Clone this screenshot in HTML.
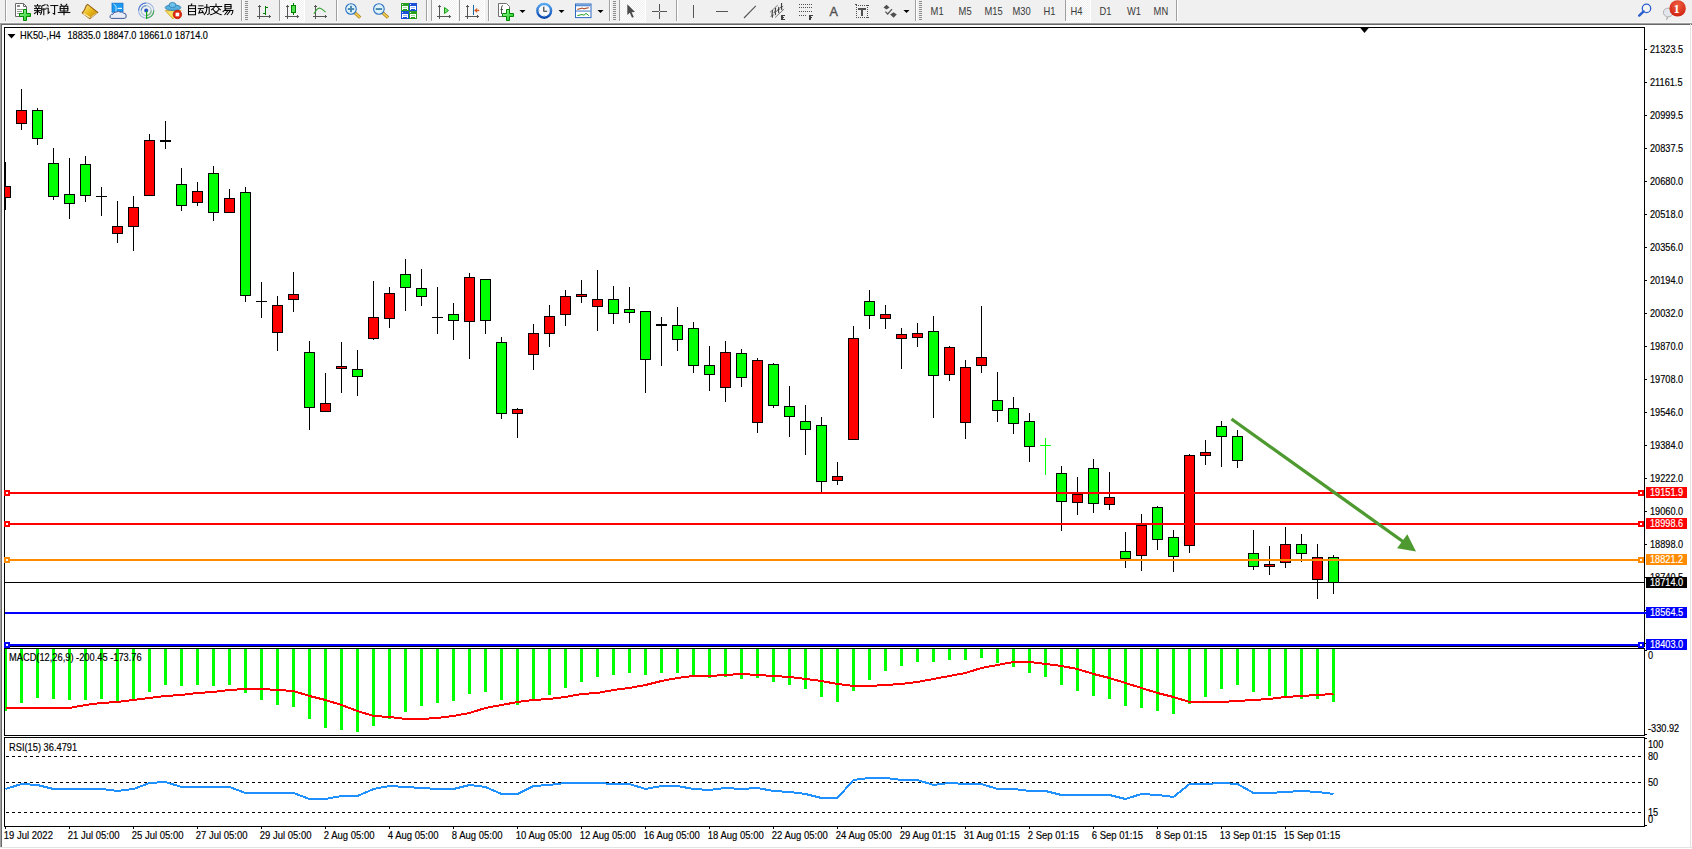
<!DOCTYPE html><html><head><meta charset="utf-8"><style>
html,body{margin:0;padding:0;}body{width:1692px;height:849px;overflow:hidden;background:#f0f0f0;position:relative;font-family:"Liberation Sans",sans-serif;}
svg{position:absolute;left:0;top:0;}
.t{font-family:"Liberation Sans",sans-serif;font-size:10px;fill:#000;stroke:#000;stroke-width:0.16px;}
</style></head><body>
<svg width="1692" height="849" viewBox="0 0 1692 849">
<g shape-rendering="crispEdges">
<rect x="0" y="0" width="1692" height="23" fill="#f0f0f0"/>
<rect x="0" y="22" width="1691" height="1" fill="#f7f7f7"/>
<rect x="0" y="23" width="1692" height="1" fill="#a0a0a0"/>
<rect x="0" y="24" width="1692" height="1" fill="#696969"/>
<rect x="0" y="25" width="1692" height="824" fill="#ffffff"/>
<rect x="0" y="23" width="1" height="826" fill="#a0a0a0"/>
<rect x="1" y="24" width="1" height="825" fill="#696969"/>
<rect x="1690" y="24" width="1" height="825" fill="#e3e3e3"/>
<rect x="0" y="847" width="1692" height="1" fill="#e3e3e3"/>
<rect x="0" y="848" width="1692" height="1" fill="#ffffff"/>
<rect x="4" y="27" width="1641" height="1" fill="#000"/>
<rect x="4" y="646" width="1641" height="1" fill="#000"/>
<rect x="4" y="27" width="1" height="620" fill="#000"/>
<rect x="1644" y="27" width="1" height="620" fill="#000"/>
<rect x="4" y="648" width="1641" height="1" fill="#000"/>
<rect x="4" y="735" width="1641" height="1" fill="#000"/>
<rect x="4" y="648" width="1" height="88" fill="#000"/>
<rect x="1644" y="648" width="1" height="88" fill="#000"/>
<rect x="4" y="737" width="1641" height="1" fill="#000"/>
<rect x="4" y="826" width="1641" height="1" fill="#000"/>
<rect x="4" y="737" width="1" height="90" fill="#000"/>
<rect x="1644" y="737" width="1" height="90" fill="#000"/>
</g>
<defs><clipPath id="cm"><rect x="5" y="28" width="1639" height="618"/></clipPath>
<clipPath id="cd"><rect x="5" y="649" width="1639" height="86"/></clipPath>
<clipPath id="cr"><rect x="5" y="738" width="1639" height="88"/></clipPath></defs>
<g clip-path="url(#cm)" shape-rendering="crispEdges">
<rect x="5" y="162" width="1" height="48" fill="#000"/>
<rect x="0" y="186" width="11" height="12" fill="#000"/>
<rect x="1" y="187" width="9" height="10" fill="#ff0000"/>
<rect x="21" y="89" width="1" height="41" fill="#000"/>
<rect x="16" y="110" width="11" height="14" fill="#000"/>
<rect x="17" y="111" width="9" height="12" fill="#ff0000"/>
<rect x="37" y="108" width="1" height="37" fill="#000"/>
<rect x="32" y="110" width="11" height="29" fill="#000"/>
<rect x="33" y="111" width="9" height="27" fill="#00ff00"/>
<rect x="53" y="148" width="1" height="52" fill="#000"/>
<rect x="48" y="163" width="11" height="34" fill="#000"/>
<rect x="49" y="164" width="9" height="32" fill="#00ff00"/>
<rect x="69" y="158" width="1" height="61" fill="#000"/>
<rect x="64" y="194" width="11" height="10" fill="#000"/>
<rect x="65" y="195" width="9" height="8" fill="#00ff00"/>
<rect x="85" y="156" width="1" height="46" fill="#000"/>
<rect x="80" y="164" width="11" height="32" fill="#000"/>
<rect x="81" y="165" width="9" height="30" fill="#00ff00"/>
<rect x="101" y="187" width="1" height="29" fill="#000"/>
<rect x="96" y="196" width="11" height="1" fill="#000"/>
<rect x="117" y="201" width="1" height="42" fill="#000"/>
<rect x="112" y="226" width="11" height="8" fill="#000"/>
<rect x="113" y="227" width="9" height="6" fill="#ff0000"/>
<rect x="133" y="196" width="1" height="55" fill="#000"/>
<rect x="128" y="207" width="11" height="20" fill="#000"/>
<rect x="129" y="208" width="9" height="18" fill="#ff0000"/>
<rect x="149" y="134" width="1" height="62" fill="#000"/>
<rect x="144" y="140" width="11" height="56" fill="#000"/>
<rect x="145" y="141" width="9" height="54" fill="#ff0000"/>
<rect x="165" y="121" width="1" height="28" fill="#000"/>
<rect x="160" y="140" width="11" height="2" fill="#000"/>
<rect x="181" y="168" width="1" height="43" fill="#000"/>
<rect x="176" y="184" width="11" height="22" fill="#000"/>
<rect x="177" y="185" width="9" height="20" fill="#00ff00"/>
<rect x="197" y="182" width="1" height="24" fill="#000"/>
<rect x="192" y="191" width="11" height="12" fill="#000"/>
<rect x="193" y="192" width="9" height="10" fill="#ff0000"/>
<rect x="213" y="166" width="1" height="55" fill="#000"/>
<rect x="208" y="173" width="11" height="40" fill="#000"/>
<rect x="209" y="174" width="9" height="38" fill="#00ff00"/>
<rect x="229" y="189" width="1" height="24" fill="#000"/>
<rect x="224" y="198" width="11" height="15" fill="#000"/>
<rect x="225" y="199" width="9" height="13" fill="#ff0000"/>
<rect x="245" y="187" width="1" height="115" fill="#000"/>
<rect x="240" y="192" width="11" height="104" fill="#000"/>
<rect x="241" y="193" width="9" height="102" fill="#00ff00"/>
<rect x="261" y="282" width="1" height="36" fill="#000"/>
<rect x="256" y="301" width="11" height="1" fill="#000"/>
<rect x="277" y="296" width="1" height="55" fill="#000"/>
<rect x="272" y="305" width="11" height="28" fill="#000"/>
<rect x="273" y="306" width="9" height="26" fill="#ff0000"/>
<rect x="293" y="272" width="1" height="40" fill="#000"/>
<rect x="288" y="294" width="11" height="6" fill="#000"/>
<rect x="289" y="295" width="9" height="4" fill="#ff0000"/>
<rect x="309" y="341" width="1" height="89" fill="#000"/>
<rect x="304" y="352" width="11" height="56" fill="#000"/>
<rect x="305" y="353" width="9" height="54" fill="#00ff00"/>
<rect x="325" y="373" width="1" height="39" fill="#000"/>
<rect x="320" y="403" width="11" height="9" fill="#000"/>
<rect x="321" y="404" width="9" height="7" fill="#ff0000"/>
<rect x="341" y="342" width="1" height="51" fill="#000"/>
<rect x="336" y="366" width="11" height="3" fill="#000"/>
<rect x="337" y="367" width="9" height="1" fill="#ff0000"/>
<rect x="357" y="350" width="1" height="46" fill="#000"/>
<rect x="352" y="369" width="11" height="8" fill="#000"/>
<rect x="353" y="370" width="9" height="6" fill="#00ff00"/>
<rect x="373" y="281" width="1" height="59" fill="#000"/>
<rect x="368" y="317" width="11" height="22" fill="#000"/>
<rect x="369" y="318" width="9" height="20" fill="#ff0000"/>
<rect x="389" y="287" width="1" height="41" fill="#000"/>
<rect x="384" y="293" width="11" height="26" fill="#000"/>
<rect x="385" y="294" width="9" height="24" fill="#ff0000"/>
<rect x="405" y="259" width="1" height="52" fill="#000"/>
<rect x="400" y="274" width="11" height="14" fill="#000"/>
<rect x="401" y="275" width="9" height="12" fill="#00ff00"/>
<rect x="421" y="269" width="1" height="37" fill="#000"/>
<rect x="416" y="288" width="11" height="9" fill="#000"/>
<rect x="417" y="289" width="9" height="7" fill="#00ff00"/>
<rect x="437" y="287" width="1" height="47" fill="#000"/>
<rect x="432" y="317" width="11" height="1" fill="#000"/>
<rect x="453" y="303" width="1" height="37" fill="#000"/>
<rect x="448" y="314" width="11" height="7" fill="#000"/>
<rect x="449" y="315" width="9" height="5" fill="#00ff00"/>
<rect x="469" y="273" width="1" height="86" fill="#000"/>
<rect x="464" y="277" width="11" height="45" fill="#000"/>
<rect x="465" y="278" width="9" height="43" fill="#ff0000"/>
<rect x="485" y="279" width="1" height="55" fill="#000"/>
<rect x="480" y="279" width="11" height="42" fill="#000"/>
<rect x="481" y="280" width="9" height="40" fill="#00ff00"/>
<rect x="501" y="337" width="1" height="82" fill="#000"/>
<rect x="496" y="342" width="11" height="72" fill="#000"/>
<rect x="497" y="343" width="9" height="70" fill="#00ff00"/>
<rect x="517" y="408" width="1" height="30" fill="#000"/>
<rect x="512" y="409" width="11" height="5" fill="#000"/>
<rect x="513" y="410" width="9" height="3" fill="#ff0000"/>
<rect x="533" y="324" width="1" height="46" fill="#000"/>
<rect x="528" y="333" width="11" height="22" fill="#000"/>
<rect x="529" y="334" width="9" height="20" fill="#ff0000"/>
<rect x="549" y="305" width="1" height="42" fill="#000"/>
<rect x="544" y="316" width="11" height="18" fill="#000"/>
<rect x="545" y="317" width="9" height="16" fill="#ff0000"/>
<rect x="565" y="290" width="1" height="36" fill="#000"/>
<rect x="560" y="296" width="11" height="19" fill="#000"/>
<rect x="561" y="297" width="9" height="17" fill="#ff0000"/>
<rect x="581" y="280" width="1" height="23" fill="#000"/>
<rect x="576" y="294" width="11" height="3" fill="#000"/>
<rect x="577" y="295" width="9" height="1" fill="#ff0000"/>
<rect x="597" y="270" width="1" height="61" fill="#000"/>
<rect x="592" y="299" width="11" height="8" fill="#000"/>
<rect x="593" y="300" width="9" height="6" fill="#ff0000"/>
<rect x="613" y="286" width="1" height="38" fill="#000"/>
<rect x="608" y="299" width="11" height="15" fill="#000"/>
<rect x="609" y="300" width="9" height="13" fill="#00ff00"/>
<rect x="629" y="287" width="1" height="36" fill="#000"/>
<rect x="624" y="309" width="11" height="4" fill="#000"/>
<rect x="625" y="310" width="9" height="2" fill="#00ff00"/>
<rect x="645" y="311" width="1" height="82" fill="#000"/>
<rect x="640" y="311" width="11" height="49" fill="#000"/>
<rect x="641" y="312" width="9" height="47" fill="#00ff00"/>
<rect x="661" y="317" width="1" height="49" fill="#000"/>
<rect x="656" y="324" width="11" height="2" fill="#000"/>
<rect x="677" y="307" width="1" height="44" fill="#000"/>
<rect x="672" y="325" width="11" height="15" fill="#000"/>
<rect x="673" y="326" width="9" height="13" fill="#00ff00"/>
<rect x="693" y="322" width="1" height="51" fill="#000"/>
<rect x="688" y="328" width="11" height="38" fill="#000"/>
<rect x="689" y="329" width="9" height="36" fill="#00ff00"/>
<rect x="709" y="346" width="1" height="45" fill="#000"/>
<rect x="704" y="365" width="11" height="10" fill="#000"/>
<rect x="705" y="366" width="9" height="8" fill="#00ff00"/>
<rect x="725" y="341" width="1" height="61" fill="#000"/>
<rect x="720" y="352" width="11" height="36" fill="#000"/>
<rect x="721" y="353" width="9" height="34" fill="#ff0000"/>
<rect x="741" y="349" width="1" height="38" fill="#000"/>
<rect x="736" y="353" width="11" height="25" fill="#000"/>
<rect x="737" y="354" width="9" height="23" fill="#00ff00"/>
<rect x="757" y="358" width="1" height="75" fill="#000"/>
<rect x="752" y="360" width="11" height="63" fill="#000"/>
<rect x="753" y="361" width="9" height="61" fill="#ff0000"/>
<rect x="773" y="363" width="1" height="45" fill="#000"/>
<rect x="768" y="364" width="11" height="42" fill="#000"/>
<rect x="769" y="365" width="9" height="40" fill="#00ff00"/>
<rect x="789" y="386" width="1" height="51" fill="#000"/>
<rect x="784" y="406" width="11" height="11" fill="#000"/>
<rect x="785" y="407" width="9" height="9" fill="#00ff00"/>
<rect x="805" y="405" width="1" height="50" fill="#000"/>
<rect x="800" y="421" width="11" height="9" fill="#000"/>
<rect x="801" y="422" width="9" height="7" fill="#00ff00"/>
<rect x="821" y="417" width="1" height="76" fill="#000"/>
<rect x="816" y="425" width="11" height="57" fill="#000"/>
<rect x="817" y="426" width="9" height="55" fill="#00ff00"/>
<rect x="837" y="462" width="1" height="23" fill="#000"/>
<rect x="832" y="476" width="11" height="5" fill="#000"/>
<rect x="833" y="477" width="9" height="3" fill="#ff0000"/>
<rect x="853" y="326" width="1" height="114" fill="#000"/>
<rect x="848" y="338" width="11" height="102" fill="#000"/>
<rect x="849" y="339" width="9" height="100" fill="#ff0000"/>
<rect x="869" y="290" width="1" height="39" fill="#000"/>
<rect x="864" y="301" width="11" height="15" fill="#000"/>
<rect x="865" y="302" width="9" height="13" fill="#00ff00"/>
<rect x="885" y="305" width="1" height="24" fill="#000"/>
<rect x="880" y="314" width="11" height="5" fill="#000"/>
<rect x="881" y="315" width="9" height="3" fill="#ff0000"/>
<rect x="901" y="328" width="1" height="41" fill="#000"/>
<rect x="896" y="334" width="11" height="5" fill="#000"/>
<rect x="897" y="335" width="9" height="3" fill="#ff0000"/>
<rect x="917" y="323" width="1" height="24" fill="#000"/>
<rect x="912" y="333" width="11" height="5" fill="#000"/>
<rect x="913" y="334" width="9" height="3" fill="#ff0000"/>
<rect x="933" y="316" width="1" height="102" fill="#000"/>
<rect x="928" y="331" width="11" height="45" fill="#000"/>
<rect x="929" y="332" width="9" height="43" fill="#00ff00"/>
<rect x="949" y="346" width="1" height="35" fill="#000"/>
<rect x="944" y="347" width="11" height="28" fill="#000"/>
<rect x="945" y="348" width="9" height="26" fill="#ff0000"/>
<rect x="965" y="360" width="1" height="79" fill="#000"/>
<rect x="960" y="367" width="11" height="56" fill="#000"/>
<rect x="961" y="368" width="9" height="54" fill="#ff0000"/>
<rect x="981" y="306" width="1" height="67" fill="#000"/>
<rect x="976" y="357" width="11" height="9" fill="#000"/>
<rect x="977" y="358" width="9" height="7" fill="#ff0000"/>
<rect x="997" y="372" width="1" height="50" fill="#000"/>
<rect x="992" y="400" width="11" height="11" fill="#000"/>
<rect x="993" y="401" width="9" height="9" fill="#00ff00"/>
<rect x="1013" y="397" width="1" height="37" fill="#000"/>
<rect x="1008" y="408" width="11" height="16" fill="#000"/>
<rect x="1009" y="409" width="9" height="14" fill="#00ff00"/>
<rect x="1029" y="413" width="1" height="49" fill="#000"/>
<rect x="1024" y="421" width="11" height="26" fill="#000"/>
<rect x="1025" y="422" width="9" height="24" fill="#00ff00"/>
<rect x="1045" y="438" width="1" height="37" fill="#00ff00"/>
<rect x="1040" y="445" width="11" height="1" fill="#00ff00"/>
<rect x="1061" y="466" width="1" height="65" fill="#000"/>
<rect x="1056" y="473" width="11" height="29" fill="#000"/>
<rect x="1057" y="474" width="9" height="27" fill="#00ff00"/>
<rect x="1077" y="477" width="1" height="38" fill="#000"/>
<rect x="1072" y="494" width="11" height="9" fill="#000"/>
<rect x="1073" y="495" width="9" height="7" fill="#ff0000"/>
<rect x="1093" y="459" width="1" height="54" fill="#000"/>
<rect x="1088" y="468" width="11" height="36" fill="#000"/>
<rect x="1089" y="469" width="9" height="34" fill="#00ff00"/>
<rect x="1109" y="472" width="1" height="38" fill="#000"/>
<rect x="1104" y="497" width="11" height="8" fill="#000"/>
<rect x="1105" y="498" width="9" height="6" fill="#ff0000"/>
<rect x="1125" y="532" width="1" height="36" fill="#000"/>
<rect x="1120" y="551" width="11" height="8" fill="#000"/>
<rect x="1121" y="552" width="9" height="6" fill="#00ff00"/>
<rect x="1141" y="514" width="1" height="57" fill="#000"/>
<rect x="1136" y="525" width="11" height="31" fill="#000"/>
<rect x="1137" y="526" width="9" height="29" fill="#ff0000"/>
<rect x="1157" y="506" width="1" height="44" fill="#000"/>
<rect x="1152" y="507" width="11" height="33" fill="#000"/>
<rect x="1153" y="508" width="9" height="31" fill="#00ff00"/>
<rect x="1173" y="530" width="1" height="42" fill="#000"/>
<rect x="1168" y="537" width="11" height="20" fill="#000"/>
<rect x="1169" y="538" width="9" height="18" fill="#00ff00"/>
<rect x="1189" y="454" width="1" height="99" fill="#000"/>
<rect x="1184" y="455" width="11" height="91" fill="#000"/>
<rect x="1185" y="456" width="9" height="89" fill="#ff0000"/>
<rect x="1205" y="440" width="1" height="25" fill="#000"/>
<rect x="1200" y="452" width="11" height="4" fill="#000"/>
<rect x="1201" y="453" width="9" height="2" fill="#ff0000"/>
<rect x="1221" y="421" width="1" height="46" fill="#000"/>
<rect x="1216" y="426" width="11" height="11" fill="#000"/>
<rect x="1217" y="427" width="9" height="9" fill="#00ff00"/>
<rect x="1237" y="430" width="1" height="38" fill="#000"/>
<rect x="1232" y="436" width="11" height="25" fill="#000"/>
<rect x="1233" y="437" width="9" height="23" fill="#00ff00"/>
<rect x="1253" y="530" width="1" height="40" fill="#000"/>
<rect x="1248" y="553" width="11" height="14" fill="#000"/>
<rect x="1249" y="554" width="9" height="12" fill="#00ff00"/>
<rect x="1269" y="546" width="1" height="29" fill="#000"/>
<rect x="1264" y="564" width="11" height="3" fill="#000"/>
<rect x="1265" y="565" width="9" height="1" fill="#ff0000"/>
<rect x="1285" y="527" width="1" height="41" fill="#000"/>
<rect x="1280" y="544" width="11" height="19" fill="#000"/>
<rect x="1281" y="545" width="9" height="17" fill="#ff0000"/>
<rect x="1301" y="534" width="1" height="28" fill="#000"/>
<rect x="1296" y="544" width="11" height="10" fill="#000"/>
<rect x="1297" y="545" width="9" height="8" fill="#00ff00"/>
<rect x="1317" y="544" width="1" height="55" fill="#000"/>
<rect x="1312" y="557" width="11" height="23" fill="#000"/>
<rect x="1313" y="558" width="9" height="21" fill="#ff0000"/>
<rect x="1333" y="555" width="1" height="39" fill="#000"/>
<rect x="1328" y="557" width="11" height="26" fill="#000"/>
<rect x="1329" y="558" width="9" height="24" fill="#00ff00"/>
<rect x="5" y="492" width="1639" height="2" fill="#ff0000"/>
<rect x="5" y="523" width="1639" height="2" fill="#ff0000"/>
<rect x="5" y="559" width="1639" height="2" fill="#ff8c00"/>
<rect x="5" y="582" width="1639" height="1" fill="#000000"/>
<rect x="5" y="612" width="1639" height="2" fill="#0000ff"/>
<rect x="5" y="644" width="1639" height="2" fill="#0000ff"/>
</g>
<g shape-rendering="crispEdges">
<rect x="4" y="490" width="6" height="6" fill="#ff0000"/>
<rect x="6" y="492" width="2" height="2" fill="#ffffff"/>
<rect x="1638" y="490" width="6" height="6" fill="#ff0000"/>
<rect x="1640" y="492" width="2" height="2" fill="#ffffff"/>
<rect x="4" y="521" width="6" height="6" fill="#ff0000"/>
<rect x="6" y="523" width="2" height="2" fill="#ffffff"/>
<rect x="1638" y="521" width="6" height="6" fill="#ff0000"/>
<rect x="1640" y="523" width="2" height="2" fill="#ffffff"/>
<rect x="4" y="557" width="6" height="6" fill="#ff8c00"/>
<rect x="6" y="559" width="2" height="2" fill="#ffffff"/>
<rect x="1638" y="557" width="6" height="6" fill="#ff8c00"/>
<rect x="1640" y="559" width="2" height="2" fill="#ffffff"/>
<rect x="4" y="642" width="6" height="6" fill="#0000ff"/>
<rect x="6" y="644" width="2" height="2" fill="#ffffff"/>
<rect x="1638" y="642" width="6" height="6" fill="#0000ff"/>
<rect x="1640" y="644" width="2" height="2" fill="#ffffff"/>
</g>
<polygon points="1359.5,27 1369.5,27 1364.5,33" fill="#000"/>
<line x1="1231.5" y1="419" x2="1405" y2="543" stroke="#4e9a30" stroke-width="3.3"/>
<polygon points="1416,551.5 1407.3,534.2 1397.1,548.3" fill="#4e9a30"/>
<g clip-path="url(#cd)" shape-rendering="crispEdges">
<rect x="4" y="649" width="3" height="62" fill="#00ff00"/>
<rect x="20" y="649" width="3" height="54" fill="#00ff00"/>
<rect x="36" y="649" width="3" height="49" fill="#00ff00"/>
<rect x="52" y="649" width="3" height="50" fill="#00ff00"/>
<rect x="68" y="649" width="3" height="51" fill="#00ff00"/>
<rect x="84" y="649" width="3" height="51" fill="#00ff00"/>
<rect x="100" y="649" width="3" height="50" fill="#00ff00"/>
<rect x="116" y="649" width="3" height="52" fill="#00ff00"/>
<rect x="132" y="649" width="3" height="51" fill="#00ff00"/>
<rect x="148" y="649" width="3" height="43" fill="#00ff00"/>
<rect x="164" y="649" width="3" height="36" fill="#00ff00"/>
<rect x="180" y="649" width="3" height="37" fill="#00ff00"/>
<rect x="196" y="649" width="3" height="36" fill="#00ff00"/>
<rect x="212" y="649" width="3" height="37" fill="#00ff00"/>
<rect x="228" y="649" width="3" height="36" fill="#00ff00"/>
<rect x="244" y="649" width="3" height="44" fill="#00ff00"/>
<rect x="260" y="649" width="3" height="51" fill="#00ff00"/>
<rect x="276" y="649" width="3" height="56" fill="#00ff00"/>
<rect x="292" y="649" width="3" height="58" fill="#00ff00"/>
<rect x="308" y="649" width="3" height="70" fill="#00ff00"/>
<rect x="324" y="649" width="3" height="79" fill="#00ff00"/>
<rect x="340" y="649" width="3" height="81" fill="#00ff00"/>
<rect x="356" y="649" width="3" height="83" fill="#00ff00"/>
<rect x="372" y="649" width="3" height="77" fill="#00ff00"/>
<rect x="388" y="649" width="3" height="70" fill="#00ff00"/>
<rect x="404" y="649" width="3" height="63" fill="#00ff00"/>
<rect x="420" y="649" width="3" height="57" fill="#00ff00"/>
<rect x="436" y="649" width="3" height="54" fill="#00ff00"/>
<rect x="452" y="649" width="3" height="52" fill="#00ff00"/>
<rect x="468" y="649" width="3" height="45" fill="#00ff00"/>
<rect x="484" y="649" width="3" height="43" fill="#00ff00"/>
<rect x="500" y="649" width="3" height="51" fill="#00ff00"/>
<rect x="516" y="649" width="3" height="56" fill="#00ff00"/>
<rect x="532" y="649" width="3" height="51" fill="#00ff00"/>
<rect x="548" y="649" width="3" height="46" fill="#00ff00"/>
<rect x="564" y="649" width="3" height="39" fill="#00ff00"/>
<rect x="580" y="649" width="3" height="33" fill="#00ff00"/>
<rect x="596" y="649" width="3" height="28" fill="#00ff00"/>
<rect x="612" y="649" width="3" height="26" fill="#00ff00"/>
<rect x="628" y="649" width="3" height="24" fill="#00ff00"/>
<rect x="644" y="649" width="3" height="26" fill="#00ff00"/>
<rect x="660" y="649" width="3" height="24" fill="#00ff00"/>
<rect x="676" y="649" width="3" height="24" fill="#00ff00"/>
<rect x="692" y="649" width="3" height="27" fill="#00ff00"/>
<rect x="708" y="649" width="3" height="29" fill="#00ff00"/>
<rect x="724" y="649" width="3" height="28" fill="#00ff00"/>
<rect x="740" y="649" width="3" height="30" fill="#00ff00"/>
<rect x="756" y="649" width="3" height="29" fill="#00ff00"/>
<rect x="772" y="649" width="3" height="33" fill="#00ff00"/>
<rect x="788" y="649" width="3" height="36" fill="#00ff00"/>
<rect x="804" y="649" width="3" height="40" fill="#00ff00"/>
<rect x="820" y="649" width="3" height="48" fill="#00ff00"/>
<rect x="836" y="649" width="3" height="53" fill="#00ff00"/>
<rect x="852" y="649" width="3" height="42" fill="#00ff00"/>
<rect x="868" y="649" width="3" height="31" fill="#00ff00"/>
<rect x="884" y="649" width="3" height="22" fill="#00ff00"/>
<rect x="900" y="649" width="3" height="17" fill="#00ff00"/>
<rect x="916" y="649" width="3" height="13" fill="#00ff00"/>
<rect x="932" y="649" width="3" height="13" fill="#00ff00"/>
<rect x="948" y="649" width="3" height="11" fill="#00ff00"/>
<rect x="964" y="649" width="3" height="11" fill="#00ff00"/>
<rect x="980" y="649" width="3" height="9" fill="#00ff00"/>
<rect x="996" y="649" width="3" height="14" fill="#00ff00"/>
<rect x="1012" y="649" width="3" height="18" fill="#00ff00"/>
<rect x="1028" y="649" width="3" height="24" fill="#00ff00"/>
<rect x="1044" y="649" width="3" height="28" fill="#00ff00"/>
<rect x="1060" y="649" width="3" height="36" fill="#00ff00"/>
<rect x="1076" y="649" width="3" height="42" fill="#00ff00"/>
<rect x="1092" y="649" width="3" height="47" fill="#00ff00"/>
<rect x="1108" y="649" width="3" height="50" fill="#00ff00"/>
<rect x="1124" y="649" width="3" height="57" fill="#00ff00"/>
<rect x="1140" y="649" width="3" height="59" fill="#00ff00"/>
<rect x="1156" y="649" width="3" height="62" fill="#00ff00"/>
<rect x="1172" y="649" width="3" height="65" fill="#00ff00"/>
<rect x="1188" y="649" width="3" height="55" fill="#00ff00"/>
<rect x="1204" y="649" width="3" height="48" fill="#00ff00"/>
<rect x="1220" y="649" width="3" height="40" fill="#00ff00"/>
<rect x="1236" y="649" width="3" height="36" fill="#00ff00"/>
<rect x="1252" y="649" width="3" height="43" fill="#00ff00"/>
<rect x="1268" y="649" width="3" height="47" fill="#00ff00"/>
<rect x="1284" y="649" width="3" height="48" fill="#00ff00"/>
<rect x="1300" y="649" width="3" height="50" fill="#00ff00"/>
<rect x="1316" y="649" width="3" height="50" fill="#00ff00"/>
<rect x="1332" y="649" width="3" height="53" fill="#00ff00"/>
</g>
<g clip-path="url(#cd)" shape-rendering="crispEdges"><polyline points="5.5,708 69.5,708 85.5,705 101.5,703 117.5,702 133.5,700 149.5,698 165.5,696 181.5,695 197.5,693 213.5,692 229.5,690 245.5,689 261.5,689 277.5,690 293.5,691 309.5,696 325.5,700 341.5,705 357.5,711 373.5,716 389.5,717 405.5,719 421.5,719 437.5,718 453.5,716 469.5,713 485.5,708 501.5,705 517.5,702 533.5,700 549.5,699 565.5,697 581.5,694 597.5,693 613.5,690 629.5,688 645.5,685 661.5,681 677.5,678 693.5,676 709.5,676 725.5,675 741.5,674 757.5,675 773.5,676 789.5,677 805.5,679 821.5,681 837.5,684 853.5,686 869.5,686 885.5,685 901.5,684 917.5,682 933.5,679 949.5,676 965.5,673 981.5,668 997.5,665 1013.5,662 1029.5,662 1045.5,664 1061.5,666 1077.5,669 1093.5,674 1109.5,678 1125.5,683 1141.5,688 1157.5,693 1173.5,697 1189.5,702 1205.5,702 1221.5,702 1237.5,701 1253.5,700 1269.5,699 1285.5,697 1301.5,696 1317.5,695 1333.5,694" fill="none" stroke="#ff0000" stroke-width="2" stroke-linejoin="round"/></g>
<g clip-path="url(#cr)" shape-rendering="crispEdges">
<line x1="6" y1="756.5" x2="1641" y2="756.5" stroke="#000" stroke-width="1" stroke-dasharray="3,3"/>
<line x1="6" y1="782.5" x2="1641" y2="782.5" stroke="#000" stroke-width="1" stroke-dasharray="3,3"/>
<line x1="6" y1="812.5" x2="1641" y2="812.5" stroke="#000" stroke-width="1" stroke-dasharray="3,3"/>
</g>
<g clip-path="url(#cr)" shape-rendering="crispEdges"><polyline points="5.5,789 21.5,784 37.5,785 53.5,789 69.5,789 85.5,789 101.5,789 117.5,791 133.5,789 149.5,783 165.5,782 181.5,787 197.5,787 213.5,787 229.5,787 245.5,793 261.5,793 277.5,793 293.5,793 309.5,799 325.5,799 341.5,796 357.5,796 373.5,789 389.5,786 405.5,787 421.5,788 437.5,789 453.5,789 469.5,785 485.5,787 501.5,794 517.5,794 533.5,786 549.5,785 565.5,783 581.5,783 597.5,783 613.5,784 629.5,784 645.5,789 661.5,786 677.5,786 693.5,789 709.5,790 725.5,788 741.5,789 757.5,788 773.5,791 789.5,792 805.5,794 821.5,798 837.5,798 853.5,780 869.5,778 885.5,778 901.5,780 917.5,780 933.5,785 949.5,783 965.5,784 981.5,784 997.5,789 1013.5,789 1029.5,791 1045.5,791 1061.5,795 1077.5,795 1093.5,795 1109.5,795 1125.5,799 1141.5,794 1157.5,795 1173.5,797 1189.5,784 1205.5,784 1221.5,783 1237.5,784 1253.5,793 1269.5,793 1285.5,792 1301.5,791 1317.5,792 1333.5,794" fill="none" stroke="#1e90ff" stroke-width="2" stroke-linejoin="round"/></g>
<g shape-rendering="crispEdges">
<g shape-rendering="crispEdges">
<rect x="1645" y="610" width="2" height="1" fill="#000"/>
<rect x="1645" y="643" width="2" height="1" fill="#000"/>
<rect x="1645" y="650" width="2" height="1" fill="#000"/>
<rect x="1644" y="612" width="2" height="2" fill="#0000ff"/>
</g>
<rect x="1645" y="49" width="2" height="1" fill="#000"/>
<rect x="1645" y="82" width="2" height="1" fill="#000"/>
<rect x="1645" y="115" width="2" height="1" fill="#000"/>
<rect x="1645" y="148" width="2" height="1" fill="#000"/>
<rect x="1645" y="181" width="2" height="1" fill="#000"/>
<rect x="1645" y="214" width="2" height="1" fill="#000"/>
<rect x="1645" y="247" width="2" height="1" fill="#000"/>
<rect x="1645" y="280" width="2" height="1" fill="#000"/>
<rect x="1645" y="313" width="2" height="1" fill="#000"/>
<rect x="1645" y="346" width="2" height="1" fill="#000"/>
<rect x="1645" y="379" width="2" height="1" fill="#000"/>
<rect x="1645" y="412" width="2" height="1" fill="#000"/>
<rect x="1645" y="445" width="2" height="1" fill="#000"/>
<rect x="1645" y="478" width="2" height="1" fill="#000"/>
<rect x="1645" y="511" width="2" height="1" fill="#000"/>
<rect x="1645" y="544" width="2" height="1" fill="#000"/>
<rect x="1645" y="577" width="2" height="1" fill="#000"/>
</g>
<text class="t" transform="translate(1650,53) scale(0.92,1)">21323.5</text>
<text class="t" transform="translate(1650,86) scale(0.92,1)">21161.5</text>
<text class="t" transform="translate(1650,119) scale(0.92,1)">20999.5</text>
<text class="t" transform="translate(1650,152) scale(0.92,1)">20837.5</text>
<text class="t" transform="translate(1650,185) scale(0.92,1)">20680.0</text>
<text class="t" transform="translate(1650,218) scale(0.92,1)">20518.0</text>
<text class="t" transform="translate(1650,251) scale(0.92,1)">20356.0</text>
<text class="t" transform="translate(1650,284) scale(0.92,1)">20194.0</text>
<text class="t" transform="translate(1650,317) scale(0.92,1)">20032.0</text>
<text class="t" transform="translate(1650,350) scale(0.92,1)">19870.0</text>
<text class="t" transform="translate(1650,383) scale(0.92,1)">19708.0</text>
<text class="t" transform="translate(1650,416) scale(0.92,1)">19546.0</text>
<text class="t" transform="translate(1650,449) scale(0.92,1)">19384.0</text>
<text class="t" transform="translate(1650,482) scale(0.92,1)">19222.0</text>
<text class="t" transform="translate(1650,515) scale(0.92,1)">19060.0</text>
<text class="t" transform="translate(1650,548) scale(0.92,1)">18898.0</text>
<text class="t" transform="translate(1650,581) scale(0.92,1)">18740.5</text>
<rect x="1646" y="487" width="41" height="11" fill="#ff0000" shape-rendering="crispEdges"/>
<text class="t" transform="translate(1650,496) scale(0.92,1)" style="fill:#fff;stroke:#fff">19151.9</text>
<rect x="1646" y="518" width="41" height="11" fill="#ff0000" shape-rendering="crispEdges"/>
<text class="t" transform="translate(1650,527) scale(0.92,1)" style="fill:#fff;stroke:#fff">18998.6</text>
<rect x="1646" y="554" width="41" height="11" fill="#ff8c00" shape-rendering="crispEdges"/>
<text class="t" transform="translate(1650,563) scale(0.92,1)" style="fill:#fff;stroke:#fff">18821.2</text>
<rect x="1646" y="577" width="41" height="11" fill="#000000" shape-rendering="crispEdges"/>
<text class="t" transform="translate(1650,586) scale(0.92,1)" style="fill:#fff;stroke:#fff">18714.0</text>
<rect x="1646" y="607" width="41" height="11" fill="#0000ff" shape-rendering="crispEdges"/>
<text class="t" transform="translate(1650,616) scale(0.92,1)" style="fill:#fff;stroke:#fff">18564.5</text>
<rect x="1646" y="639" width="41" height="11" fill="#0000ff" shape-rendering="crispEdges"/>
<text class="t" transform="translate(1650,648) scale(0.92,1)" style="fill:#fff;stroke:#fff">18403.0</text>
<text class="t" transform="translate(1648,659) scale(0.92,1)">0</text>
<text class="t" transform="translate(1648,732) scale(0.92,1)">-330.92</text>
<text class="t" transform="translate(1648,748) scale(0.92,1)">100</text>
<text class="t" transform="translate(1648,760) scale(0.92,1)">80</text>
<text class="t" transform="translate(1648,786) scale(0.92,1)">50</text>
<text class="t" transform="translate(1648,816) scale(0.92,1)">15</text>
<text class="t" transform="translate(1648,823) scale(0.92,1)">0</text>
<g shape-rendering="crispEdges">
<rect x="1645" y="734" width="2" height="1" fill="#000"/>
<rect x="1645" y="738" width="2" height="1" fill="#000"/>
<rect x="1645" y="825" width="2" height="1" fill="#000"/>
</g>
<g shape-rendering="crispEdges">
<rect x="5" y="827" width="1" height="2" fill="#000"/>
<rect x="69" y="827" width="1" height="2" fill="#000"/>
<rect x="133" y="827" width="1" height="2" fill="#000"/>
<rect x="197" y="827" width="1" height="2" fill="#000"/>
<rect x="261" y="827" width="1" height="2" fill="#000"/>
<rect x="325" y="827" width="1" height="2" fill="#000"/>
<rect x="389" y="827" width="1" height="2" fill="#000"/>
<rect x="453" y="827" width="1" height="2" fill="#000"/>
<rect x="517" y="827" width="1" height="2" fill="#000"/>
<rect x="581" y="827" width="1" height="2" fill="#000"/>
<rect x="645" y="827" width="1" height="2" fill="#000"/>
<rect x="709" y="827" width="1" height="2" fill="#000"/>
<rect x="773" y="827" width="1" height="2" fill="#000"/>
<rect x="837" y="827" width="1" height="2" fill="#000"/>
<rect x="901" y="827" width="1" height="2" fill="#000"/>
<rect x="965" y="827" width="1" height="2" fill="#000"/>
<rect x="1029" y="827" width="1" height="2" fill="#000"/>
<rect x="1093" y="827" width="1" height="2" fill="#000"/>
<rect x="1157" y="827" width="1" height="2" fill="#000"/>
<rect x="1221" y="827" width="1" height="2" fill="#000"/>
<rect x="1285" y="827" width="1" height="2" fill="#000"/>
</g>
<text class="t" transform="translate(3.8,839) scale(0.95,1)">19 Jul 2022</text>
<text class="t" transform="translate(67.8,839) scale(0.95,1)">21 Jul 05:00</text>
<text class="t" transform="translate(131.8,839) scale(0.95,1)">25 Jul 05:00</text>
<text class="t" transform="translate(195.8,839) scale(0.95,1)">27 Jul 05:00</text>
<text class="t" transform="translate(259.8,839) scale(0.95,1)">29 Jul 05:00</text>
<text class="t" transform="translate(323.8,839) scale(0.95,1)">2 Aug 05:00</text>
<text class="t" transform="translate(387.8,839) scale(0.95,1)">4 Aug 05:00</text>
<text class="t" transform="translate(451.8,839) scale(0.95,1)">8 Aug 05:00</text>
<text class="t" transform="translate(515.8,839) scale(0.95,1)">10 Aug 05:00</text>
<text class="t" transform="translate(579.8,839) scale(0.95,1)">12 Aug 05:00</text>
<text class="t" transform="translate(643.8,839) scale(0.95,1)">16 Aug 05:00</text>
<text class="t" transform="translate(707.8,839) scale(0.95,1)">18 Aug 05:00</text>
<text class="t" transform="translate(771.8,839) scale(0.95,1)">22 Aug 05:00</text>
<text class="t" transform="translate(835.8,839) scale(0.95,1)">24 Aug 05:00</text>
<text class="t" transform="translate(899.8,839) scale(0.95,1)">29 Aug 01:15</text>
<text class="t" transform="translate(963.8,839) scale(0.95,1)">31 Aug 01:15</text>
<text class="t" transform="translate(1027.8,839) scale(0.95,1)">2 Sep 01:15</text>
<text class="t" transform="translate(1091.8,839) scale(0.95,1)">6 Sep 01:15</text>
<text class="t" transform="translate(1155.8,839) scale(0.95,1)">8 Sep 01:15</text>
<text class="t" transform="translate(1219.8,839) scale(0.95,1)">13 Sep 01:15</text>
<text class="t" transform="translate(1283.8,839) scale(0.95,1)">15 Sep 01:15</text>
<polygon points="7.5,34 15.5,34 11.5,38.5" fill="#000"/>
<text class="t" transform="translate(20,39) scale(0.93,1)">HK50-,H4</text>
<text class="t" transform="translate(67.5,39) scale(0.92,1)">18835.0 18847.0 18661.0 18714.0</text>
<text class="t" transform="translate(9,661) scale(0.93,1)">MACD(12,26,9) -200.45 -173.76</text>
<text class="t" transform="translate(9,751) scale(0.93,1)">RSI(15) 36.4791</text>
<defs><pattern id="chk" width="2" height="2" patternUnits="userSpaceOnUse"><rect width="2" height="2" fill="#f0f0f0"/><rect width="1" height="1" fill="#fff"/><rect x="1" y="1" width="1" height="1" fill="#fff"/></pattern>
<linearGradient id="gpl" x1="0" y1="0" x2="1" y2="1"><stop offset="0" stop-color="#a8ffa8"/><stop offset="1" stop-color="#10c010"/></linearGradient>
<linearGradient id="gold" x1="0" y1="0" x2="1" y2="1"><stop offset="0" stop-color="#fff0a0"/><stop offset="0.5" stop-color="#e8b818"/><stop offset="1" stop-color="#c08010"/></linearGradient>
<linearGradient id="clk" x1="0" y1="0" x2="0" y2="1"><stop offset="0" stop-color="#58a8f0"/><stop offset="1" stop-color="#0a48b0"/></linearGradient>
<radialGradient id="redb" cx="0.5" cy="0.3" r="0.7"><stop offset="0" stop-color="#f06040"/><stop offset="1" stop-color="#d02010"/></radialGradient>
</defs>
<g shape-rendering="crispEdges">
<rect x="5" y="0" width="1" height="21" fill="#a0a0a0"/>
<rect x="6" y="0" width="1" height="21" fill="#ffffff"/>
<rect x="241" y="0" width="1" height="21" fill="#a0a0a0"/>
<rect x="242" y="0" width="1" height="21" fill="#ffffff"/>
<rect x="336" y="0" width="1" height="21" fill="#a0a0a0"/>
<rect x="337" y="0" width="1" height="21" fill="#ffffff"/>
<rect x="426" y="0" width="1" height="21" fill="#a0a0a0"/>
<rect x="427" y="0" width="1" height="21" fill="#ffffff"/>
<rect x="488" y="0" width="1" height="21" fill="#a0a0a0"/>
<rect x="489" y="0" width="1" height="21" fill="#ffffff"/>
<rect x="609" y="0" width="1" height="21" fill="#a0a0a0"/>
<rect x="610" y="0" width="1" height="21" fill="#ffffff"/>
<rect x="676" y="0" width="1" height="21" fill="#a0a0a0"/>
<rect x="677" y="0" width="1" height="21" fill="#ffffff"/>
<rect x="915" y="0" width="1" height="21" fill="#a0a0a0"/>
<rect x="916" y="0" width="1" height="21" fill="#ffffff"/>
<rect x="1176" y="0" width="1" height="21" fill="#a0a0a0"/>
<rect x="1177" y="0" width="1" height="21" fill="#ffffff"/>
<rect x="245" y="1" width="3" height="1" fill="#8c8c8c"/>
<rect x="245" y="3" width="3" height="1" fill="#8c8c8c"/>
<rect x="245" y="5" width="3" height="1" fill="#8c8c8c"/>
<rect x="245" y="7" width="3" height="1" fill="#8c8c8c"/>
<rect x="245" y="9" width="3" height="1" fill="#8c8c8c"/>
<rect x="245" y="11" width="3" height="1" fill="#8c8c8c"/>
<rect x="245" y="13" width="3" height="1" fill="#8c8c8c"/>
<rect x="245" y="15" width="3" height="1" fill="#8c8c8c"/>
<rect x="245" y="17" width="3" height="1" fill="#8c8c8c"/>
<rect x="245" y="19" width="3" height="1" fill="#8c8c8c"/>
<rect x="613" y="1" width="3" height="1" fill="#8c8c8c"/>
<rect x="613" y="3" width="3" height="1" fill="#8c8c8c"/>
<rect x="613" y="5" width="3" height="1" fill="#8c8c8c"/>
<rect x="613" y="7" width="3" height="1" fill="#8c8c8c"/>
<rect x="613" y="9" width="3" height="1" fill="#8c8c8c"/>
<rect x="613" y="11" width="3" height="1" fill="#8c8c8c"/>
<rect x="613" y="13" width="3" height="1" fill="#8c8c8c"/>
<rect x="613" y="15" width="3" height="1" fill="#8c8c8c"/>
<rect x="613" y="17" width="3" height="1" fill="#8c8c8c"/>
<rect x="613" y="19" width="3" height="1" fill="#8c8c8c"/>
<rect x="919" y="1" width="3" height="1" fill="#8c8c8c"/>
<rect x="919" y="3" width="3" height="1" fill="#8c8c8c"/>
<rect x="919" y="5" width="3" height="1" fill="#8c8c8c"/>
<rect x="919" y="7" width="3" height="1" fill="#8c8c8c"/>
<rect x="919" y="9" width="3" height="1" fill="#8c8c8c"/>
<rect x="919" y="11" width="3" height="1" fill="#8c8c8c"/>
<rect x="919" y="13" width="3" height="1" fill="#8c8c8c"/>
<rect x="919" y="15" width="3" height="1" fill="#8c8c8c"/>
<rect x="919" y="17" width="3" height="1" fill="#8c8c8c"/>
<rect x="919" y="19" width="3" height="1" fill="#8c8c8c"/>
<rect x="279" y="0" width="1" height="21" fill="#a0a0a0"/>
<rect x="280" y="0" width="24" height="21" fill="url(#chk)"/>
<rect x="304" y="0" width="1" height="22" fill="#ffffff"/>
<rect x="279" y="21" width="26" height="1" fill="#ffffff"/>
<rect x="431" y="0" width="1" height="21" fill="#a0a0a0"/>
<rect x="432" y="0" width="25" height="21" fill="url(#chk)"/>
<rect x="457" y="0" width="1" height="22" fill="#ffffff"/>
<rect x="431" y="21" width="27" height="1" fill="#ffffff"/>
<rect x="459" y="0" width="1" height="21" fill="#a0a0a0"/>
<rect x="460" y="0" width="24" height="21" fill="url(#chk)"/>
<rect x="484" y="0" width="1" height="22" fill="#ffffff"/>
<rect x="459" y="21" width="26" height="1" fill="#ffffff"/>
<rect x="619" y="0" width="1" height="21" fill="#a0a0a0"/>
<rect x="620" y="0" width="25" height="21" fill="url(#chk)"/>
<rect x="645" y="0" width="1" height="22" fill="#ffffff"/>
<rect x="619" y="21" width="27" height="1" fill="#ffffff"/>
<rect x="1065" y="0" width="1" height="21" fill="#a0a0a0"/>
<rect x="1066" y="0" width="24" height="21" fill="url(#chk)"/>
<rect x="1090" y="0" width="1" height="22" fill="#ffffff"/>
<rect x="1065" y="21" width="26" height="1" fill="#ffffff"/>
</g>
<g>
<path d="M15.5,3.5 H23.5 L26.5,6.5 V16.5 H15.5 Z" fill="#fff" stroke="#6a6a6a" stroke-width="1"/>
<path d="M23.5,3.5 V6.5 H26.5" fill="none" stroke="#6a6a6a" stroke-width="1"/>
<g shape-rendering="crispEdges">
<rect x="17" y="5" width="3" height="2" fill="#8a8a8a"/>
<rect x="17" y="9" width="6" height="1" fill="#9a9a9a"/>
<rect x="17" y="11" width="5" height="1" fill="#9a9a9a"/>
<rect x="17" y="13" width="3" height="1" fill="#9a9a9a"/>
</g>
<path d="M23.5,9.5 H26.5 V13.5 H30.5 V16.5 H26.5 V20.5 H23.5 V16.5 H19.5 V13.5 H23.5 Z" fill="url(#gpl)" stroke="#008a00" stroke-width="1"/>
</g>
<g transform="translate(34,4) scale(1,0.92)" fill="none" stroke="#000" stroke-width="1.05" stroke-linecap="square">
<path d="M3.5,0.5 V1.5"/>
<path d="M0.5,2 H6.5"/>
<path d="M1.8,3 L2.4,4.3"/>
<path d="M5.2,3 L4.6,4.3"/>
<path d="M0.5,5 H6.5"/>
<path d="M0.5,7.2 H6.5"/>
<path d="M3.5,5 V11.5"/>
<path d="M3.3,8 L0.5,10.5"/>
<path d="M3.8,8 L6.3,9.6"/>
<path d="M11,0.8 L7.8,2.2 V7 Q7.6,9.8 6.6,11.3"/>
<path d="M7.8,5.5 H11.8"/>
<path d="M9.8,5.5 V11.8"/>
</g>
<g transform="translate(46,4) scale(1,0.92)" fill="none" stroke="#000" stroke-width="1.05" stroke-linecap="square">
<path d="M1,0.8 L2.2,2.2"/>
<path d="M0.3,4.5 H2.2 V10.2 L3.6,8.8"/>
<path d="M4.8,1.7 H11.8"/>
<path d="M8.6,1.7 V11 L7.2,10.3"/>
</g>
<g transform="translate(58,4) scale(1,0.92)" fill="none" stroke="#000" stroke-width="1.05" stroke-linecap="square">
<path d="M3,0.3 L4,1.6"/>
<path d="M8.8,0.3 L7.8,1.6"/>
<path d="M2.2,2.5 H9.8 V7.6 H2.2 Z"/>
<path d="M2.2,5 H9.8"/>
<path d="M6,2.5 V11.8"/>
<path d="M0.3,9.3 H11.8"/>
</g>
<g transform="translate(186,4) scale(1,0.92)" fill="none" stroke="#000" stroke-width="1.05" stroke-linecap="square">
<path d="M5.8,0 L5,1.6"/>
<path d="M2.5,2 H9.5 V11.6 H2.5 Z"/>
<path d="M2.5,5 H9.5"/>
<path d="M2.5,8.2 H9.5"/>
</g>
<g transform="translate(198,4) scale(1,0.92)" fill="none" stroke="#000" stroke-width="1.05" stroke-linecap="square">
<path d="M0.8,2 H5"/>
<path d="M0.3,5 H5.6"/>
<path d="M2.6,5 L0.8,9.8 L5,9"/>
<path d="M4,7.2 L5.3,9.8"/>
<path d="M6.5,3.5 H11.2 V10.6 L9.6,11.3"/>
<path d="M8.8,0.5 V6 Q8.5,9.5 6.2,11.5"/>
</g>
<g transform="translate(210,4) scale(1,0.92)" fill="none" stroke="#000" stroke-width="1.05" stroke-linecap="square">
<path d="M6,0 V1.6"/>
<path d="M0.3,2.7 H11.7"/>
<path d="M4.2,3.8 L1.6,6.2"/>
<path d="M7.8,3.8 L10.4,6.2"/>
<path d="M3,5.8 Q6,10.5 11.2,11.6"/>
<path d="M9,5.8 Q6,10.5 0.6,11.6"/>
</g>
<g transform="translate(222,4) scale(1,0.92)" fill="none" stroke="#000" stroke-width="1.05" stroke-linecap="square">
<path d="M3,0.5 H9 V5.2 H3 Z"/>
<path d="M3,2.85 H9"/>
<path d="M3.8,5.6 L1,8.3"/>
<path d="M2.8,7 H10.9 Q10.9,10.5 9.3,11.5"/>
<path d="M5.8,7.2 L2.8,11.5"/>
<path d="M8.3,7.2 L5.3,11.5"/>
</g>
<path d="M87.6,4.4 L97.8,12.4 L89.8,18.6 L82.2,12.8 Q84.8,10.2 85.4,7.6 Q86,5.2 87.6,4.4 Z" fill="url(#gold)" stroke="#9a6010" stroke-width="1.1" stroke-linejoin="round"/>
<path d="M83.4,13.4 L89.9,17.6" fill="none" stroke="#fff0b0" stroke-width="1.2"/>
<path d="M90.6,17.6 L97,12.9" fill="none" stroke="#e8d8a0" stroke-width="1"/>
<rect x="112" y="3.2" width="11" height="9" fill="#1a9af0" stroke="#1070d0" stroke-width="0.8"/>
<path d="M113.5,4 L116,6 V12" fill="none" stroke="#c8ecff" stroke-width="0.9"/>
<rect x="117.5" y="7.8" width="4.5" height="1.2" fill="#e8f6ff"/>
<path d="M111.2,18.4 Q109,17.6 110.4,15.4 Q111.2,13.8 112.8,14.4 Q113.4,11.6 116.4,12 Q118.4,10.6 120.6,12.2 Q122,11 123.4,13 Q126.6,13.2 126.2,16 Q126.4,18.4 124.2,18.4 Z" fill="#e8ecf6" stroke="#405a98" stroke-width="1"/>
<g fill="none" stroke-width="1.1">
<circle cx="146.2" cy="10.6" r="7.6" stroke="#9ab4e0"/>
<circle cx="146.2" cy="10.6" r="5" stroke="#a8c4dc"/>
<path d="M138.6,10.6 A7.6,7.6 0 0 1 146.2,3" stroke="#5078d0"/>
<path d="M141.2,10.6 A5,5 0 0 1 146.2,5.6" stroke="#6a90c8"/>
<path d="M153.8,10.6 A7.6,7.6 0 0 1 146.2,18.2" stroke="#48a858"/>
<path d="M151.2,10.6 A5,5 0 0 1 146.2,15.6" stroke="#78b880"/>
</g>
<circle cx="146.2" cy="10.6" r="2" fill="#2050c8"/>
<rect x="146" y="11" width="1.2" height="7.8" fill="#10a010"/>
<path d="M165.3,10.6 L181,10.6 L173,18.9 Z" fill="#f8e060" stroke="#d0a020" stroke-width="0.9"/>
<ellipse cx="173" cy="7.6" rx="7.8" ry="2.8" fill="#58b0e0" stroke="#2a80b0" stroke-width="0.9"/>
<ellipse cx="172.5" cy="5" rx="3.4" ry="2.6" fill="#70c0ec" stroke="#2a80b0" stroke-width="0.8"/>
<circle cx="177.4" cy="14.5" r="4.2" fill="#e02810" stroke="#b81808" stroke-width="0.8"/>
<rect x="175.6" y="12.7" width="3.6" height="3.6" fill="#fff"/>
<g shape-rendering="crispEdges">
<rect x="259" y="5" width="1" height="14" fill="#555"/>
<rect x="258" y="6" width="3" height="1" fill="#555"/>
<rect x="257" y="16" width="14" height="1" fill="#555"/>
<rect x="269" y="15" width="1" height="3" fill="#555"/>
</g>
<g shape-rendering="crispEdges">
<rect x="265" y="6" width="1" height="9" fill="#008000"/>
<rect x="266" y="7" width="2" height="1" fill="#008000"/>
<rect x="263" y="13" width="2" height="1" fill="#008000"/>
</g>
<g shape-rendering="crispEdges">
<rect x="287" y="5" width="1" height="14" fill="#555"/>
<rect x="286" y="6" width="3" height="1" fill="#555"/>
<rect x="285" y="16" width="14" height="1" fill="#555"/>
<rect x="297" y="15" width="1" height="3" fill="#555"/>
</g>
<g shape-rendering="crispEdges">
<rect x="293" y="3" width="1" height="12" fill="#008000"/>
<rect x="291" y="5" width="5" height="8" fill="#008000"/>
<rect x="292" y="6" width="3" height="6" fill="#50e050"/>
</g>
<g shape-rendering="crispEdges">
<rect x="315" y="5" width="1" height="14" fill="#555"/>
<rect x="314" y="6" width="3" height="1" fill="#555"/>
<rect x="313" y="16" width="14" height="1" fill="#555"/>
<rect x="325" y="15" width="1" height="3" fill="#555"/>
</g>
<path d="M314,13.8 Q317.5,7 320.3,8.3 Q322.5,9.2 325.5,12.2" fill="none" stroke="#30a030" stroke-width="1.1"/>
<line x1="354.6" y1="12.6" x2="360.2" y2="17.6" stroke="#a87a10" stroke-width="3.2"/>
<line x1="354.8" y1="12.8" x2="360" y2="17.4" stroke="#f0d050" stroke-width="1.6"/>
<circle cx="351" cy="9" r="5.3" fill="#dff3fc" stroke="#2a70c0" stroke-width="1.1"/>
<rect x="347.8" y="8.1" width="6.4" height="1.9" fill="#4a88b0"/>
<rect x="350.05" y="5.8" width="1.9" height="6.4" fill="#4a88b0"/>
<line x1="382.5" y1="12.6" x2="388.09999999999997" y2="17.6" stroke="#a87a10" stroke-width="3.2"/>
<line x1="382.7" y1="12.8" x2="387.9" y2="17.4" stroke="#f0d050" stroke-width="1.6"/>
<circle cx="378.9" cy="9" r="5.3" fill="#dff3fc" stroke="#2a70c0" stroke-width="1.1"/>
<rect x="375.7" y="8.1" width="6.4" height="1.9" fill="#4a88b0"/>
<g shape-rendering="crispEdges">
<rect x="401" y="3" width="8" height="8" fill="#2aa020"/>
<rect x="402" y="6" width="6" height="3" fill="#fff"/>
<rect x="402" y="9" width="1" height="1" fill="#fff"/>
<rect x="407" y="9" width="1" height="1" fill="#fff"/>
<rect x="402" y="4" width="1" height="1" fill="#e0e0e0"/>
<rect x="403" y="7" width="4" height="1" fill="#a0d8a0"/>
<rect x="409" y="3" width="8" height="8" fill="#1a50d8"/>
<rect x="410" y="6" width="6" height="3" fill="#fff"/>
<rect x="410" y="9" width="1" height="1" fill="#fff"/>
<rect x="415" y="9" width="1" height="1" fill="#fff"/>
<rect x="410" y="4" width="1" height="1" fill="#e0e0e0"/>
<rect x="411" y="7" width="4" height="1" fill="#a0b8f0"/>
<rect x="401" y="11" width="8" height="8" fill="#1a50d8"/>
<rect x="402" y="14" width="6" height="3" fill="#fff"/>
<rect x="402" y="17" width="1" height="1" fill="#fff"/>
<rect x="407" y="17" width="1" height="1" fill="#fff"/>
<rect x="402" y="12" width="1" height="1" fill="#e0e0e0"/>
<rect x="403" y="15" width="4" height="1" fill="#a0b8f0"/>
<rect x="409" y="11" width="8" height="8" fill="#2aa020"/>
<rect x="410" y="14" width="6" height="3" fill="#fff"/>
<rect x="410" y="17" width="1" height="1" fill="#fff"/>
<rect x="415" y="17" width="1" height="1" fill="#fff"/>
<rect x="410" y="12" width="1" height="1" fill="#e0e0e0"/>
<rect x="411" y="15" width="4" height="1" fill="#a0d8a0"/>
</g>
<g shape-rendering="crispEdges">
<rect x="439" y="5" width="1" height="14" fill="#555"/>
<rect x="438" y="6" width="3" height="1" fill="#555"/>
<rect x="437" y="16" width="14" height="1" fill="#555"/>
<rect x="449" y="15" width="1" height="3" fill="#555"/>
</g>
<path d="M444.5,7.5 L448.5,10.5 L444.5,13.5 Z" fill="#80e080" stroke="#10a010" stroke-width="1"/>
<g shape-rendering="crispEdges">
<rect x="467" y="5" width="1" height="14" fill="#555"/>
<rect x="466" y="6" width="3" height="1" fill="#555"/>
<rect x="465" y="16" width="14" height="1" fill="#555"/>
<rect x="477" y="15" width="1" height="3" fill="#555"/>
</g>
<g shape-rendering="crispEdges">
<rect x="473" y="5" width="1" height="10" fill="#1a6aa8"/>
</g>
<path d="M474.5,10.4 L477,8.4 L476.4,10 H479 V10.8 H476.4 L477,12.4 Z" fill="#e85a10" stroke="#c04008" stroke-width="0.5"/>
<path d="M498.5,3.5 H506.5 L509.5,6.5 V16.5 H498.5 Z" fill="#fff" stroke="#707070" stroke-width="1"/>
<path d="M503,5.5 Q501.5,5.5 501.5,8 V14 M500.5,9.5 H503" fill="none" stroke="#404040" stroke-width="0.9"/>
<path d="M506.5,9.5 H509.5 V13.5 H513.5 V16.5 H509.5 V20.5 H506.5 V16.5 H502.5 V13.5 H506.5 Z" fill="url(#gpl)" stroke="#008a00" stroke-width="1"/>
<path d="M519.5,10 H525.5 L522.5,13 Z" fill="#000"/>
<path d="M558.5,10 H564.5 L561.5,13 Z" fill="#000"/>
<path d="M597.5,10 H603.5 L600.5,13 Z" fill="#000"/>
<path d="M903.5,10 H909.5 L906.5,13 Z" fill="#000"/>
<circle cx="544.2" cy="10.8" r="6.9" fill="#f4f8fc" stroke="url(#clk)" stroke-width="2.4"/>
<g stroke="#9ab0c8" stroke-width="0.8"><path d="M544.2,5.4 V6.4 M544.2,15.2 V16.2 M538.8,10.8 H539.8 M548.6,10.8 H549.6"/></g>
<path d="M543.8,6.8 V11.2 H547.2" fill="none" stroke="#303030" stroke-width="1.1"/>
<rect x="575.5" y="4" width="15.5" height="13.6" fill="#fff" stroke="#2a6ac0" stroke-width="1"/>
<rect x="576" y="4.5" width="14.5" height="1.8" fill="#5a90d8"/>
<rect x="576" y="10.6" width="14.5" height="0.9" fill="#2a6ac0"/>
<path d="M577.3,9.3 L580,8.8 L582,8 L584,8.9 L586,8.2 L588.8,7.8" fill="none" stroke="#a03010" stroke-width="1"/>
<path d="M577.3,15.6 L580,15 L582,14.5 L584,15.2 L586,13.4 L588.8,15.6" fill="none" stroke="#20a020" stroke-width="1"/>
<path d="M627.3,4.2 V15 L629.8,12.8 L632,17.8 L633.8,17 L631.6,12.2 L635,12 Z" fill="#4a4a4a"/>
<g shape-rendering="crispEdges">
<rect x="652" y="11" width="7" height="1" fill="#555"/>
<rect x="660" y="11" width="7" height="1" fill="#555"/>
<rect x="659" y="4" width="1" height="7" fill="#555"/>
<rect x="659" y="12" width="1" height="7" fill="#555"/>
<rect x="693" y="5" width="1" height="13" fill="#555"/>
<rect x="716" y="11" width="12" height="1" fill="#555"/>
</g>
<line x1="744" y1="18" x2="755.8" y2="5.8" stroke="#555" stroke-width="1.1"/>
<g fill="none" stroke="#606060" stroke-width="0.8"><path d="M769.9,12.4 L777.7,5.2 M775.1,17.6 L784.1,9.1"/></g>
<g fill="none" stroke="#404040" stroke-width="1.15"><path d="M772.5,17.6 Q771.7,14 772.5,10.2 M775.6,15 Q774.8,11.5 775.6,7.8 M778.8,13.2 Q778,10 778.8,6.8 M781.8,10.2 Q781.2,6.5 781.6,3"/></g>
<g fill="none" stroke="#404040" stroke-width="0.8"><path d="M770.6,16.4 L773.8,14.8 M773.6,12.6 L776.8,11.2 M776.8,10.6 L780,9 M779.8,8 L783.2,6.2"/></g>
<g shape-rendering="crispEdges">
<rect x="781" y="15" width="2" height="5" fill="#404040"/>
<rect x="781" y="15" width="4" height="1" fill="#404040"/>
<rect x="781" y="17" width="3" height="1" fill="#404040"/>
<rect x="781" y="19" width="4" height="1" fill="#404040"/>
<rect x="809" y="15" width="2" height="5" fill="#404040"/>
<rect x="809" y="15" width="4" height="1" fill="#404040"/>
<rect x="809" y="17" width="3" height="1" fill="#404040"/>
</g>
<g shape-rendering="crispEdges">
<rect x="799" y="4" width="1" height="1" fill="#505050"/>
<rect x="801" y="4" width="1" height="1" fill="#505050"/>
<rect x="803" y="4" width="1" height="1" fill="#505050"/>
<rect x="805" y="4" width="1" height="1" fill="#505050"/>
<rect x="807" y="4" width="1" height="1" fill="#505050"/>
<rect x="809" y="4" width="1" height="1" fill="#505050"/>
<rect x="811" y="4" width="1" height="1" fill="#505050"/>
<rect x="799" y="7" width="1" height="1" fill="#505050"/>
<rect x="801" y="7" width="1" height="1" fill="#505050"/>
<rect x="803" y="7" width="1" height="1" fill="#505050"/>
<rect x="805" y="7" width="1" height="1" fill="#505050"/>
<rect x="807" y="7" width="1" height="1" fill="#505050"/>
<rect x="809" y="7" width="1" height="1" fill="#505050"/>
<rect x="811" y="7" width="1" height="1" fill="#505050"/>
<rect x="799" y="11" width="1" height="1" fill="#505050"/>
<rect x="801" y="11" width="1" height="1" fill="#505050"/>
<rect x="803" y="11" width="1" height="1" fill="#505050"/>
<rect x="805" y="11" width="1" height="1" fill="#505050"/>
<rect x="807" y="11" width="1" height="1" fill="#505050"/>
<rect x="809" y="11" width="1" height="1" fill="#505050"/>
<rect x="811" y="11" width="1" height="1" fill="#505050"/>
<rect x="799" y="15" width="1" height="1" fill="#505050"/>
<rect x="801" y="15" width="1" height="1" fill="#505050"/>
<rect x="803" y="15" width="1" height="1" fill="#505050"/>
<rect x="805" y="15" width="1" height="1" fill="#505050"/>
<rect x="856" y="5" width="1" height="1" fill="#505050"/>
<rect x="856" y="17" width="1" height="1" fill="#505050"/>
<rect x="858" y="5" width="1" height="1" fill="#505050"/>
<rect x="858" y="17" width="1" height="1" fill="#505050"/>
<rect x="860" y="5" width="1" height="1" fill="#505050"/>
<rect x="860" y="17" width="1" height="1" fill="#505050"/>
<rect x="862" y="5" width="1" height="1" fill="#505050"/>
<rect x="862" y="17" width="1" height="1" fill="#505050"/>
<rect x="864" y="5" width="1" height="1" fill="#505050"/>
<rect x="864" y="17" width="1" height="1" fill="#505050"/>
<rect x="866" y="5" width="1" height="1" fill="#505050"/>
<rect x="866" y="17" width="1" height="1" fill="#505050"/>
<rect x="868" y="5" width="1" height="1" fill="#505050"/>
<rect x="868" y="17" width="1" height="1" fill="#505050"/>
<rect x="856" y="5" width="1" height="1" fill="#505050"/>
<rect x="867" y="5" width="1" height="1" fill="#505050"/>
<rect x="856" y="7" width="1" height="1" fill="#505050"/>
<rect x="867" y="7" width="1" height="1" fill="#505050"/>
<rect x="856" y="9" width="1" height="1" fill="#505050"/>
<rect x="867" y="9" width="1" height="1" fill="#505050"/>
<rect x="856" y="11" width="1" height="1" fill="#505050"/>
<rect x="867" y="11" width="1" height="1" fill="#505050"/>
<rect x="856" y="13" width="1" height="1" fill="#505050"/>
<rect x="867" y="13" width="1" height="1" fill="#505050"/>
<rect x="856" y="15" width="1" height="1" fill="#505050"/>
<rect x="867" y="15" width="1" height="1" fill="#505050"/>
<rect x="856" y="17" width="1" height="1" fill="#505050"/>
<rect x="867" y="17" width="1" height="1" fill="#505050"/>
<rect x="855" y="4" width="2" height="1" fill="#505050"/>
<rect x="858" y="8" width="8" height="2" fill="#505050"/>
<rect x="861" y="8" width="2" height="8" fill="#505050"/>
</g>
<text x="829.6" y="16.3" font-family="Liberation Sans" font-size="12.6px" fill="#505050" stroke="#505050" stroke-width="0.35">A</text>
<path d="M883.5,7.5 L886.5,4.8 L889.5,7.5 L886.5,9.5 Z" fill="#505050"/>
<path d="M885.4,11.6 L887.7,14 L892,9.2" fill="none" stroke="#505050" stroke-width="1.2"/>
<path d="M890.2,14.5 L893.5,12.2 L896.8,14.5 L893.5,17.8 Z" fill="#505050"/>
<text transform="translate(930.6,14.8) scale(0.9,1)" font-family="Liberation Sans" font-size="10.4px" fill="#3a3a3a">M1</text>
<text transform="translate(958.6,14.8) scale(0.9,1)" font-family="Liberation Sans" font-size="10.4px" fill="#3a3a3a">M5</text>
<text transform="translate(984.4,14.8) scale(0.9,1)" font-family="Liberation Sans" font-size="10.4px" fill="#3a3a3a">M15</text>
<text transform="translate(1012.5,14.8) scale(0.9,1)" font-family="Liberation Sans" font-size="10.4px" fill="#3a3a3a">M30</text>
<text transform="translate(1043.6,14.8) scale(0.9,1)" font-family="Liberation Sans" font-size="10.4px" fill="#3a3a3a">H1</text>
<text transform="translate(1070.6,14.8) scale(0.9,1)" font-family="Liberation Sans" font-size="10.4px" fill="#3a3a3a">H4</text>
<text transform="translate(1099.4,14.8) scale(0.9,1)" font-family="Liberation Sans" font-size="10.4px" fill="#3a3a3a">D1</text>
<text transform="translate(1127,14.8) scale(0.9,1)" font-family="Liberation Sans" font-size="10.4px" fill="#3a3a3a">W1</text>
<text transform="translate(1153.6,14.8) scale(0.9,1)" font-family="Liberation Sans" font-size="10.4px" fill="#3a3a3a">MN</text>
<circle cx="1646.5" cy="8.4" r="4.2" fill="#fff" fill-opacity="0.3" stroke="#2a5fd0" stroke-width="1.3"/>
<line x1="1643.6" y1="11.4" x2="1639.2" y2="15.6" stroke="#2a5fd0" stroke-width="2.4" stroke-linecap="round"/>
<path d="M1666.5,19.6 L1667.5,16.8 Q1663.2,15.6 1663.4,12.2 Q1663.8,8.2 1668.4,8.2 Q1673,8.4 1673,12.4 Q1672.8,16.6 1668.2,16.8 Z" fill="#e4e6ee" stroke="#a8a8a8" stroke-width="0.9"/>
<circle cx="1677.6" cy="8.4" r="8.2" fill="url(#redb)"/>
<text x="1673.6" y="13.2" font-family="Liberation Serif" font-weight="bold" font-size="12.5px" fill="#fff">1</text>
</svg>
</body></html>
